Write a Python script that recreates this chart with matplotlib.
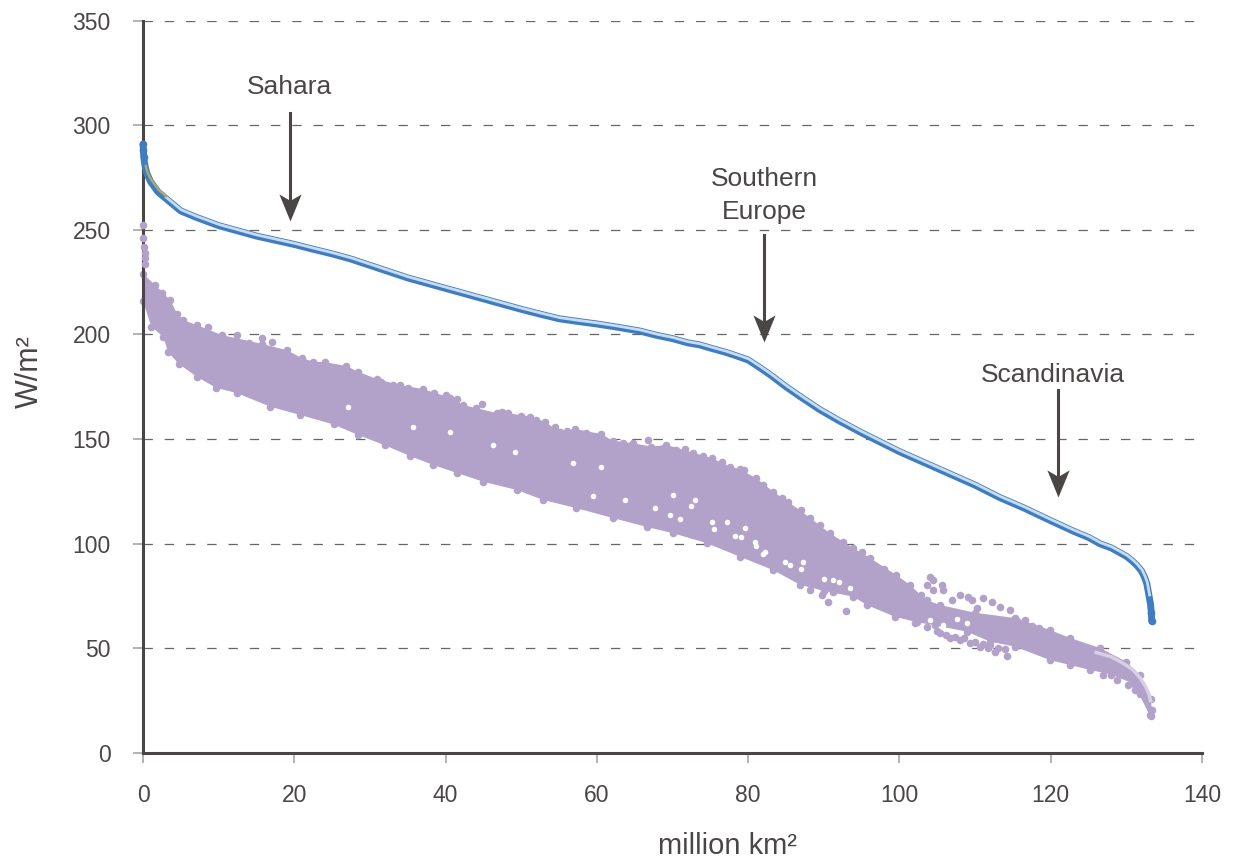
import matplotlib
matplotlib.use("Agg")
import numpy as np
from matplotlib import pyplot as plt
from matplotlib.transforms import offset_copy

plt.rcParams['font.family'] = ['Liberation Sans', 'DejaVu Sans']

# blue curve
blue_x = [0, 0.05, 0.1, 0.2, 0.3, 0.5, 0.75, 1, 1.5, 2, 2.5, 3, 4, 5, 6, 7, 8.5, 10, 12.5, 15, 17.5, 20, 22.5, 25, 27.5,
          30, 32.5, 35, 37.5, 40, 42.5, 45, 47.5, 50, 52.5, 55, 57.5, 60, 63, 65.7, 68, 70, 72, 73.6, 75, 77, 78.5,
          80, 81.6, 83, 85, 87, 89.5, 92, 95, 97.5, 100, 102.5, 105, 107.5, 110, 113.3, 116.5, 120, 123, 125, 126.5,
          128, 129, 130, 130.7, 131.3, 132, 132.4, 132.7, 133, 133.2, 133.3, 133.35]
blue_y = [291, 288, 285, 282, 280, 277, 275, 273, 270.5, 268, 266.5, 265, 262, 259, 257.5, 256, 254, 252, 249.5, 247, 245,
          243, 240.7, 238.5, 236, 233, 230, 227, 224.5, 222, 219.5, 217, 214.5, 212, 209.7, 207.5, 206.2, 205, 203.3,
          201.6, 199.5, 198, 196, 195, 193.5, 191.5, 189.7, 187.8, 184, 180.5, 175, 170, 164, 158.8, 153, 148.5, 144,
          140, 136, 132, 128, 122, 117, 111, 106, 103, 100, 98, 96, 94, 92, 90, 87, 84, 81, 75, 71, 67, 63]
olive_x = [0.3, 0.5, 1, 2, 3]
olive_y = [280, 277, 273.5, 268.5, 265.5]

# purple cloud, outer edges
upper_x = [0, 1.6, 3.6, 4.5, 5.3, 7.1, 10.4, 15.7, 19, 21, 22.5, 24, 26.9, 28.4, 30.9, 34, 37, 40.6, 42.3, 46.8, 48.3,
           51.2, 53.1, 55.1, 57.1, 60.6, 62.1, 64.8, 67.2, 69.2, 72.7, 75.2, 77.6, 78.9, 81.1, 83.3, 85.3, 88.2, 90.8,
           93.9, 96.1, 99.6, 101.4, 102.8, 103.6, 105.4, 110, 115.3, 119.9, 122.6, 126.5, 130, 131.8, 133.2, 133.4]
upper_y = [229, 223.6, 216.4, 210, 206.9, 204.5, 199.7, 195.5, 192.5, 188.7, 187, 186.8, 184.9, 182.2, 178.7, 175.8,
           173.9, 169.8, 166.3, 162.4, 162.4, 160.7, 158.3, 153.5, 154.8, 152.4, 149.2, 148, 146.4, 147.2, 143.5,
           140.9, 136.8, 135.6, 131.2, 124.9, 120, 112.3, 105, 97.9, 93.2, 85, 80.3, 75.5, 73, 70.7, 67, 64.5, 58.8,
           54.9, 50.2, 43.6, 37.3, 26, 20.5]
lower_x = [0, 1.1, 2.7, 3.3, 4.7, 7.1, 9.7, 12.4, 16.8, 20.8, 25.2, 28.4, 32, 35.3, 38.4, 41.5, 45, 49.4, 52.9, 57.3,
           62.1, 66.6, 70.1, 74.5, 78.9, 83.3, 86.9, 90, 93.9, 95.7, 99.4, 102.3, 104.7, 108.9, 112, 115.3, 119.9,
           122.6, 125.2, 128, 131, 133.1]
lower_y = [216, 203.7, 198.8, 191.7, 186, 179.8, 174.4, 172, 165.5, 161.5, 157, 152, 147, 141.9, 137.6, 133.8, 129.6,
           125.7, 120.9, 117, 112.3, 108, 105, 100.3, 93.8, 87.4, 80.3, 77.5, 74.7, 70.7, 65.1, 62.5, 61, 58, 53.2,
           50.8, 44.4, 42, 39.7, 37.5, 33, 18]

# single dots outside or on the rim of the cloud
stray_x = [0, 0, 0.1, 0.2, 0.3, 0.2, 2.5, 8.6, 12.4, 14, 15.7, 17.1, 44.8, 66.7, 71.7, 88.2, 89.7, 90.6, 91.2, 93,
           104, 103.6, 104.5, 105.6, 105.8, 106.9, 104.5, 108, 109.1, 109.6, 110.2, 111.1, 112.2, 113.3, 114.6, 116.6,
           109.3, 110.7, 111.7, 112.6, 114.2, 108, 106.7, 105.4, 103.6, 102.1,
           126.9, 128.7, 130.2, 131.2, 131.8, 133.3, 133.3,
           31.5, 33, 35, 38.5, 40, 41.5, 44, 47.5, 50, 52, 54.5, 56, 58.5, 60, 63.5, 70.5, 74, 76.5, 79.5, 82, 84.5,
           87, 89.5, 92.5, 95, 98,
           105, 106.2, 107.3, 108.5, 110, 111, 112, 113, 114, 115.5, 117.5, 118.5]
stray_y = [252.5, 246, 242, 239, 236.5, 233.8, 219.8, 203.5, 199.7, 196, 198.3, 196.4, 166.7, 149.5, 145.2, 77.9, 75.5,
           72.3, 77.1, 67.8,
           84.2, 80.3, 82.6, 80.3, 77.9, 73.1, 77.9, 75.5, 74.7, 73.1, 69.1, 74, 72.3, 69.9, 68.3, 63.5,
           52.5, 50.8, 50, 48.2, 46.5, 54, 54.9, 57.3, 60.3, 62.1,
           37.3, 34.9, 32.5, 30.1, 28.2, 20.5, 17.8,
           177.5, 176, 174.5, 172, 171, 169, 165, 163, 161, 159, 156, 154, 153, 151, 148, 145, 142, 139, 135, 128, 122,
           116, 109, 101, 96, 88,
           58.5, 56.5, 55.5, 55, 53, 52, 51.5, 50, 49.5, 63, 60.5, 59.5]

# small white gaps inside the cloud
gap_x = [35.7, 40.6, 56.9, 60.6, 49.2, 46.3, 27.1, 59.5, 63.7, 70.1, 69.7, 67.7, 75.2, 78.3, 80.9, 77.2, 84.9, 91.2,
         82.2, 79.6, 87.3, 72.5, 73, 79, 81, 82, 85.5, 87, 90, 92, 93.5, 71, 75.5, 104, 105.8, 107.6, 108.9]
gap_y = [155.9, 153.5, 138.7, 136.8, 144, 147, 165.5, 122.9, 120.9, 123.3, 113.7, 117.3, 110.5, 103.7, 101, 110.5,
         91.4, 82.7, 96.2, 107.5, 91.4, 118, 121, 103, 99, 95, 90, 88, 83, 81.5, 79, 112, 107, 63.5, 61.2, 64, 62]

# pale last stretch of the purple series
tail_x = [126, 128, 129.5, 130.8, 131.8, 132.5, 133, 133.2]
tail_y = [48, 46, 43, 40, 36, 32, 28, 25]

x_ticks = [0, 20, 40, 60, 80, 100, 120, 140]
y_ticks = [0, 50, 100, 150, 200, 250, 300, 350]

# label, arrow x, arrow start y, arrow tip y, text y
notes = [("Sahara", 19.4, 306, 254, 318),
         ("Southern\nEurope", 82.1, 247.5, 196.4, 266.5),
         ("Scandinavia", 121, 173.4, 122.3, 180.5)]

dark = "#4a4646"
purple = "#b2a1c9"
blue = "#3f7dc1"

fig = plt.figure(figsize=(12.37, 8.59), dpi=100)
ax = fig.add_axes([143 / 1237, 1 - 753 / 859, (1202 - 143) / 1237, (753 - 20.5) / 859])
ax.set_xlim(0, 140)
ax.set_ylim(0, 350)

for sp in ['top', 'right']:
    ax.spines[sp].set_visible(False)
for sp in ['left', 'bottom']:
    ax.spines[sp].set_color(dark)
    ax.spines[sp].set_linewidth(2.2)

ax.set_xticks(x_ticks)
ax.set_yticks(y_ticks)
ax.tick_params(axis='both', length=7.2, width=1.2, color="#a5a5a5", labelcolor=dark, labelsize=16.5)
ax.tick_params(axis='x', pad=15)
ax.tick_params(axis='y', pad=16)
ax.yaxis.grid(True, color="#666666", linewidth=0.9, linestyle=(0, (7.5, 9.5)), zorder=0)
ax.set_axisbelow(True)

ax.set_xlabel("million km²", fontsize=21, color=dark, labelpad=18, x=(727 - 143) / 1059)
ax.set_ylabel("W/m²", fontsize=22, color=dark, labelpad=20, y=(753 - 372) / 732.5)

# cloud
dot = 30
ax.fill(upper_x + lower_x[::-1], upper_y + lower_y[::-1], color=purple, linewidth=0, zorder=2, clip_on=False)
ax.scatter(upper_x, upper_y, s=dot, color=purple, linewidths=0, zorder=2, clip_on=False)
ax.scatter(lower_x, lower_y, s=dot, color=purple, linewidths=0, zorder=2, clip_on=False)
ax.scatter(gap_x, gap_y, s=16, color="white", linewidths=0, zorder=3)
ax.scatter(stray_x, stray_y, s=dot, color=purple, linewidths=0, zorder=4, clip_on=False)
ax.plot(tail_x, tail_y, color="#d9cfe4", linewidth=2.5, zorder=5)

# blue line, dark body with a light stripe a bit above it
ax.plot(blue_x, blue_y, color=blue, linewidth=5, zorder=5, solid_capstyle='round', clip_on=False)
up = offset_copy(ax.transData, fig=fig, x=0.4, y=0.8, units='points')
ax.plot(blue_x[11:-3], blue_y[11:-3], color="#c9dcef", linewidth=2, zorder=6, transform=up)
ax.plot(olive_x, olive_y, color="#a9ad6b", linewidth=1.7, zorder=7, transform=up)
ax.scatter(blue_x[:3] + blue_x[-2:], blue_y[:3] + blue_y[-2:], s=dot, color=blue, linewidths=0, zorder=8, clip_on=False)

# arrow head with a notch, tip at the origin of the marker
head = [(0, 0), (-0.41, 1), (0, 0.76), (0.41, 1), (0, 0)]
for label, ax_x, y0, y1, text_y in notes:
    ax.plot([ax_x, ax_x], [y0, y1 + 8], color=dark, linewidth=2.2, zorder=9)
    ax.plot([ax_x], [y1], marker=head, markersize=39, color=dark, markeredgewidth=0, linestyle='none', zorder=9)
    ax.text(ax_x - (0.7 if label == "Scandinavia" else 0), text_y, label, fontsize=19, color=dark, ha='center',
            va='center', linespacing=1.5, zorder=10)

fig.savefig("out.png", dpi=100)
